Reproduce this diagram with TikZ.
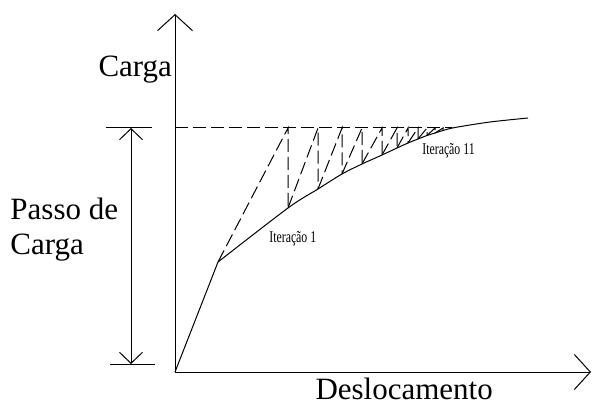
\documentclass[tikz,border=0pt]{standalone}
\usepackage{fontspec}
\setmainfont{Liberation Serif}
\usetikzlibrary{arrows.meta}

\begin{document}
\begin{tikzpicture}[x=0.5pt, y=-0.5pt, line width=0.5pt,
    eixo/.style={-{Straight Barb[length=8pt,width=17.5pt]}},
    cota/.style={{Straight Barb[length=5.5pt,width=11.5pt]}-{Straight Barb[length=5.5pt,width=11.5pt]}},
    tracejado/.style={dash pattern=on 6.5pt off 2.5pt},
    rotulo/.style={font=\fontsize{15.5}{17.5}\selectfont, inner sep=0pt},
    iter/.style={font=\fontsize{8.2}{9}\selectfont, inner sep=0pt, xscale=0.72, transform shape}]
  \useasboundingbox (0,0) rectangle (592,406);
  \coordinate (O) at (175,372);
  \coordinate (ytip) at (175,14);
  \coordinate (xtip) at (591,372);
  \coordinate (joelho) at (218,262);
  \draw[eixo] (O) -- (ytip);
  \draw[eixo] (O) -- (xtip);
  \draw (106,128) -- (152,128);
  \draw (110,364) -- (155,364);
  \draw[cota] (131,128) -- (131,364);
  \draw[tracejado] (175,128) -- (452,128);
  \draw (O) -- (joelho);
  \draw plot[smooth] coordinates {(218,262) (288,208) (318,189) (342,174) (362,164)
      (382,155) (397,148) (408,143) (418,139) (427,135.5) (435,133) (443,130.5)
      (455,127.5) (490,122) (528,118)};
  \foreach \x/\y [remember=\x as \px (initially 218), remember=\y as \py (initially 262)] in
      {288/208, 318/189, 342/174, 362/164, 382/155, 397/148,
       408/143, 418/139, 427/135.5, 435/133, 443/130.5}
    \draw[tracejado] (\px,\py) -- (\x,128) -- (\x,\y);
  \node[rotulo, anchor=base west] (carga) at (98,77) {Carga};
  \node[rotulo, anchor=north west, align=left] (passo) at (10,197) {Passo de\\Carga};
  \node[rotulo, anchor=base west] (desloc) at (315,399) {Deslocamento};
  \node[iter, anchor=base west] (iter1) at (269,242) {Iteração 1};
  \node[iter, anchor=base west] (iter11) at (422,155) {Iteração 11};
\end{tikzpicture}
\end{document}
